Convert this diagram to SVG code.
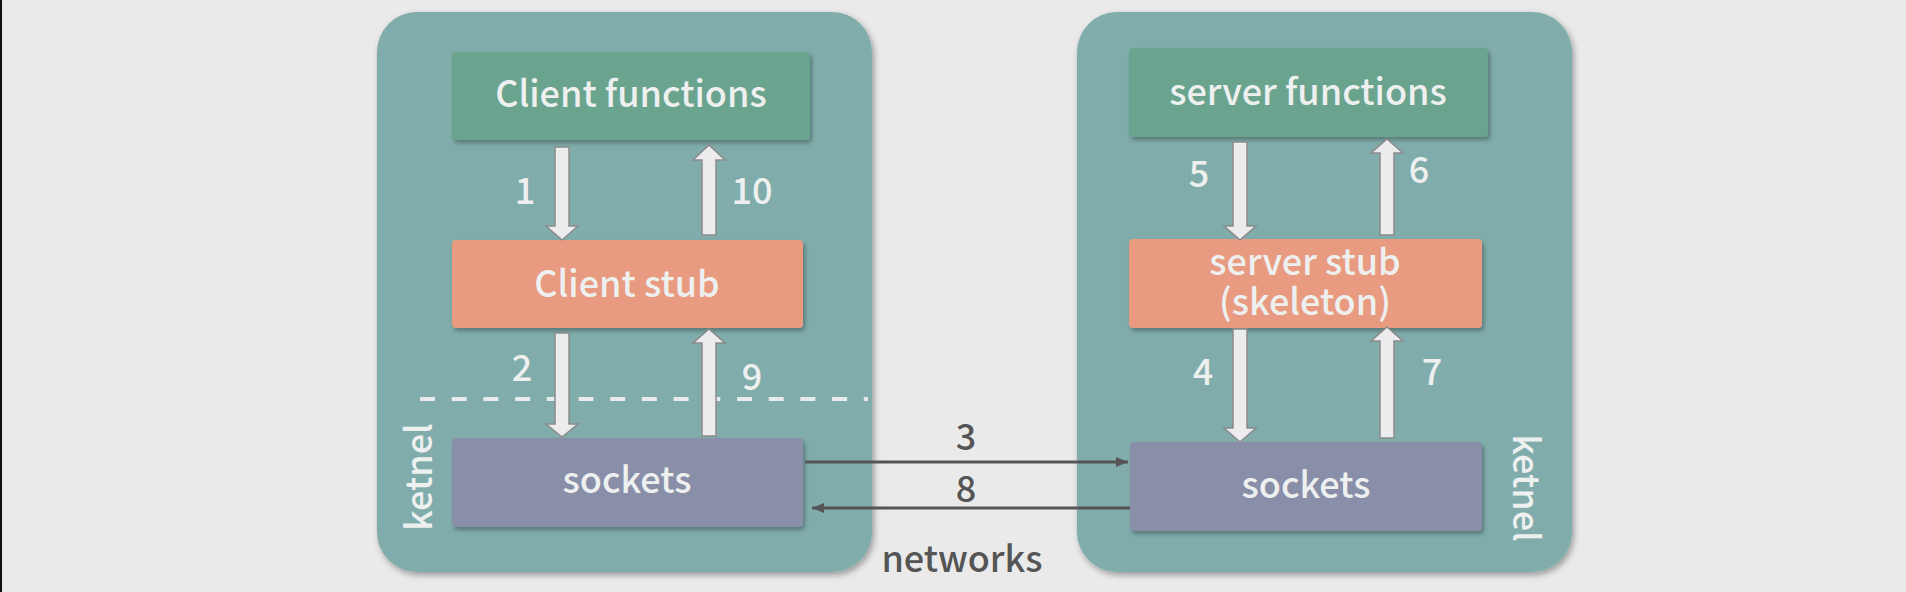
<svg xmlns="http://www.w3.org/2000/svg" width="1906" height="592" viewBox="0 0 1906 592">
<defs>
<filter id="sh" x="-10%" y="-10%" width="125%" height="130%">
<feDropShadow dx="2" dy="3" stdDeviation="3" flood-color="#000" flood-opacity="0.35"/>
</filter>
<filter id="sh2" x="-10%" y="-10%" width="125%" height="140%">
<feDropShadow dx="2" dy="3" stdDeviation="2" flood-color="#000" flood-opacity="0.3"/>
</filter>
<marker id="ah" viewBox="0 0 12 10" refX="12" refY="5" markerWidth="12" markerHeight="10" markerUnits="userSpaceOnUse" orient="auto">
<path d="M0,0 L12,5 L0,10 Z" fill="#555"/>
</marker>
</defs>
<style>
text{font-family:"Noto Sans CJK SC","Source Sans Pro","Noto Sans",sans-serif;font-weight:500;}
.cont{fill:#80adab;filter:url(#sh);}
.fn{fill:#6ba48e;filter:url(#sh2);}
.stub{fill:#e89b80;filter:url(#sh2);}
.sock{fill:#898ea9;filter:url(#sh2);}
.lbl{fill:#eef0f0;font-size:36px;text-anchor:middle;}
.num{fill:#eef0f0;font-size:36px;text-anchor:middle;}
.blk{fill:#ececee;stroke:#8a8a8a;stroke-width:1.5;}
.net{fill:#555;font-size:36px;text-anchor:middle;}
.ln{stroke:#555;stroke-width:3;fill:none;marker-end:url(#ah);}
</style>
<rect width="1906" height="592" fill="#eaeaea"/>
<rect x="0" y="0" width="2" height="592" fill="#111"/>

<g id="client-side">
<rect class="cont" x="377" y="12" width="495" height="560" rx="40"/>
<line x1="420" y1="399" x2="868" y2="399" stroke="#e8eaec" stroke-width="4" stroke-dasharray="15 16.7"/>
<text class="lbl" transform="translate(432,477) rotate(-90)">ketnel</text>
</g>
<g id="server-side">
<rect class="cont" x="1077" y="12" width="495" height="560" rx="40"/>
<text class="lbl" transform="translate(1513,488) rotate(90)">ketnel</text>
</g>

<g id="client-functions">
<rect class="fn" x="452" y="52" width="358" height="88" rx="4"/>
<text class="lbl" x="631" y="107">Client functions</text>
</g>
<g id="client-stub">
<rect class="stub" x="452" y="240" width="351" height="88" rx="4"/>
<text class="lbl" x="627" y="297">Client stub</text>
</g>
<g id="client-sockets">
<rect class="sock" x="452" y="438" width="351" height="89" rx="4"/>
<text class="lbl" x="627" y="493">sockets</text>
</g>
<g id="server-functions">
<rect class="fn" x="1129" y="48" width="359" height="89" rx="4"/>
<text class="lbl" x="1308" y="105">server functions</text>
</g>
<g id="server-stub">
<rect class="stub" x="1129" y="239" width="353" height="89" rx="4"/>
<text class="lbl" x="1305" y="275">server stub</text>
<text class="lbl" x="1305" y="315">(skeleton)</text>
</g>
<g id="server-sockets">
<rect class="sock" x="1130" y="442" width="352" height="89" rx="4"/>
<text class="lbl" x="1306" y="498">sockets</text>
</g>

<g id="connectors">
<polygon class="blk" points="555,147 569,147 569,226 578,226 562,240 546,226 555,226"/>
<polygon class="blk" points="709,145 725,160 716,160 716,235 702,235 702,160 693,160"/>
<polygon class="blk" points="555,333 569,333 569,424 578,424 562,437 546,424 555,424"/>
<polygon class="blk" points="709,329 725,343 716,343 716,436 702,436 702,343 693,343"/>
<polygon class="blk" points="1233,142 1247,142 1247,226 1256,226 1240,240 1224,226 1233,226"/>
<polygon class="blk" points="1387,139 1403,153 1394,153 1394,235 1380,235 1380,153 1371,153"/>
<polygon class="blk" points="1233,329 1247,329 1247,428 1256,428 1240,442 1224,428 1233,428"/>
<polygon class="blk" points="1387,327 1403,341 1394,341 1394,438 1380,438 1380,341 1371,341"/>
<text class="num" x="525" y="204">1</text>
<text class="num" x="752" y="204">10</text>
<text class="num" x="522" y="381">2</text>
<text class="num" x="752" y="390">9</text>
<text class="num" x="1199" y="187">5</text>
<text class="num" x="1419" y="183">6</text>
<text class="num" x="1203" y="385">4</text>
<text class="num" x="1432" y="385">7</text>
<line class="ln" x1="805" y1="462" x2="1128" y2="462"/>
<line class="ln" x1="1130" y1="508" x2="812" y2="508"/>
<text class="net" x="966" y="450">3</text>
<text class="net" x="966" y="502">8</text>
<text class="net" x="962" y="572">networks</text>
</g>
</svg>
